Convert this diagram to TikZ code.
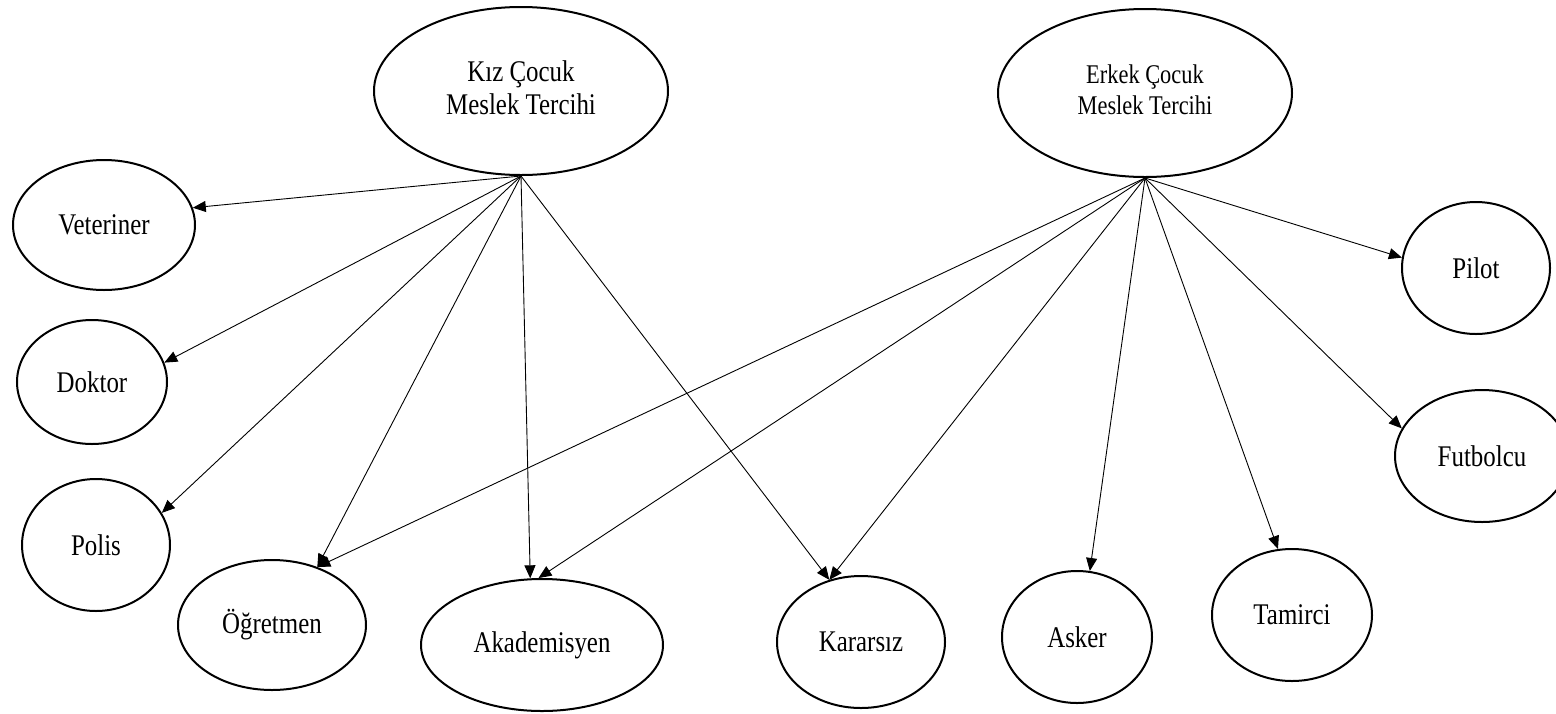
\documentclass[tikz,border=0pt]{standalone}
\usepackage{fontspec}
\setmainfont{Liberation Serif}
\usetikzlibrary{shapes.geometric,arrows.meta}
\newcommand{\sq}[1]{\scalebox{0.83}[1]{#1}}
\newcommand{\twol}[2]{\scalebox{0.83}[1]{\begin{tabular}{@{}c@{}}#1\\#2\end{tabular}}}
\begin{document}
\begin{tikzpicture}[x=1pt,y=-1pt,
  oval/.style={draw, ellipse, line width=2pt, inner sep=0pt, font=\fontsize{30}{33}\selectfont},
  link/.style={line width=0.9pt, -{Triangle[length=13pt,width=11pt]}}]
\useasboundingbox (0,0) rectangle (1556,713);
\clip (0,0) rectangle (1556,713);
\fill[white] (0,0) rectangle (1556,713);

\node[oval, minimum width=294pt, minimum height=168pt] (kiz) at (521,91)
  {\twol{Kız Çocuk}{Meslek Tercihi}};
\node[oval, minimum width=294pt, minimum height=168pt, font=\fontsize{27}{31}\selectfont] (erkek) at (1145,93)
  {\twol{Erkek Çocuk}{Meslek Tercihi}};

\node[oval, minimum width=182pt, minimum height=130pt] (vet) at (104,225) {\sq{Veteriner}};
\node[oval, minimum width=150pt, minimum height=124pt] (dok) at (92,382) {\sq{Doktor}};
\node[oval, minimum width=148pt, minimum height=132pt] (pol) at (96,545) {\sq{Polis}};
\node[oval, minimum width=188pt, minimum height=130pt] (ogr) at (272,625) {\sq{Öğretmen}};
\node[oval, minimum width=242pt, minimum height=132pt] (aka) at (542,645) {\sq{Akademisyen}};
\node[oval, minimum width=168pt, minimum height=132pt] (kar) at (861,642) {\sq{Kararsız}};
\node[oval, minimum width=150pt, minimum height=132pt] (ask) at (1077,637) {\sq{Asker}};
\node[oval, minimum width=160pt, minimum height=132pt] (tam) at (1292,615) {\sq{Tamirci}};
\node[oval, minimum width=148pt, minimum height=132pt] (pil) at (1476,268) {\sq{Pilot}};
\node[oval, minimum width=174pt, minimum height=132pt] (fut) at (1482,456) {\sq{Futbolcu}};

\draw[link] (kiz.south) -- (vet.11);
\draw[link] (kiz.south) -- (dok.15);
\draw[link] (kiz.south) -- (pol.26);
\draw[link] (kiz.south) -- (ogr.52);
\draw[link] (kiz.south) -- (aka.100);
\draw[link] (kiz.south) -- (kar.117);

\draw[link] (erkek.south) -- (ogr.52);
\draw[link] (erkek.south) -- (aka.93);
\draw[link] (erkek.south) -- (kar.117);
\draw[link] (erkek.south) -- (ask.79);
\draw[link] (erkek.south) -- (tam.102);
\draw[link] (erkek.south) -- (fut.161);
\draw[link] (erkek.south) -- (pil.172);
\end{tikzpicture}
\end{document}
